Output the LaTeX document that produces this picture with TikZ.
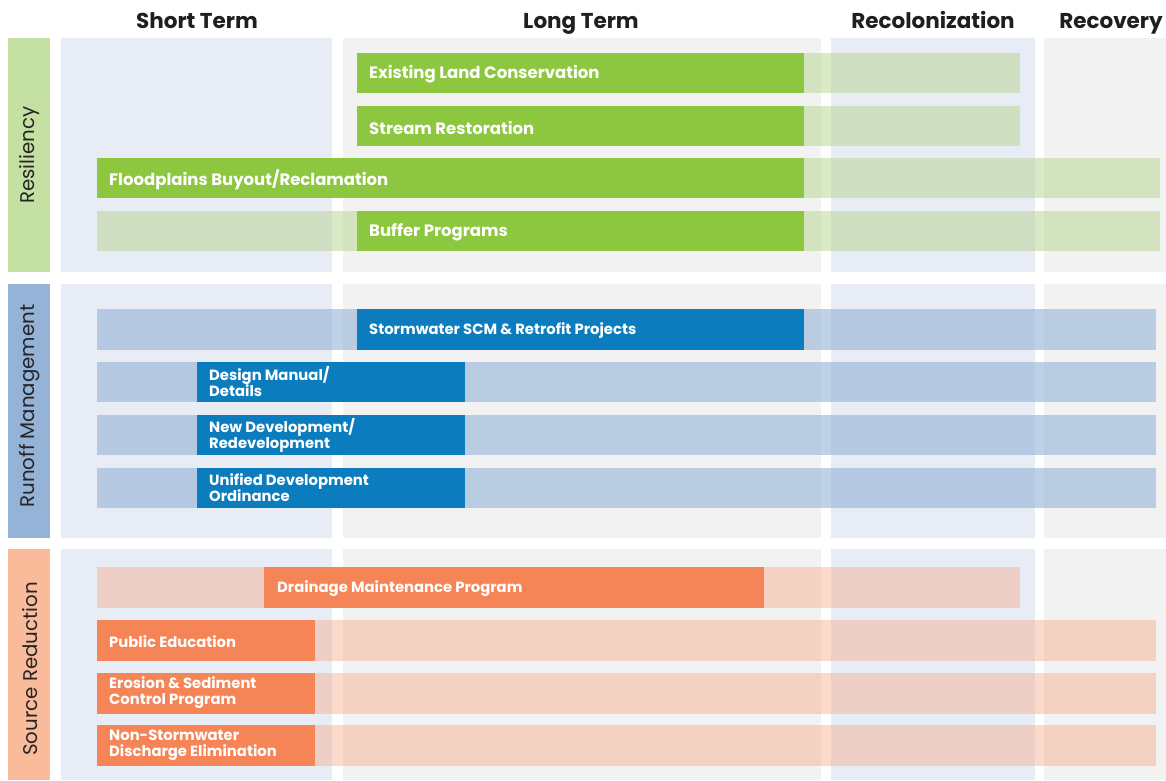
\documentclass[tikz,border=0pt]{standalone}
\usepackage{fontspec}
\setmainfont{Poppins}
\definecolor{colB}{HTML}{E8ECF5}
\definecolor{colG}{HTML}{F2F2F2}
\definecolor{gDark}{HTML}{8DC63F}
\definecolor{bDark}{HTML}{0B7DBE}
\definecolor{oDark}{HTML}{F58556}
\definecolor{gLab}{HTML}{C4E0A2}
\definecolor{bLab}{HTML}{95B3D7}
\definecolor{oLab}{HTML}{FABB9A}
\definecolor{gLt}{HTML}{B5D58E}
\definecolor{bLt}{HTML}{95B3D7}
\definecolor{oLt}{HTML}{F5A47F}
\tikzset{
  hdr/.style={font=\fontsize{21.5}{24}\selectfont\bfseries, text=black!88, inner sep=0pt, anchor=base},
  lbl/.style={font=\fontsize{19.8}{22}\selectfont, text=black!85, rotate=90, inner sep=0pt},
  btxt/.style={font=\fontsize{16.5}{18}\selectfont\bfseries, text=white, anchor=west, inner sep=0pt, align=left, yshift=-1.5pt},
  stxt/.style={font=\fontsize{14.8}{16}\selectfont\bfseries, text=white, anchor=west, inner sep=0pt, align=left, yshift=-1.5pt},
  ttxt/.style={font=\fontsize{14.8}{16}\selectfont\bfseries, text=white, anchor=west, inner sep=0pt, align=left},
  gd/.style={fill=gDark}, bd/.style={fill=bDark}, od/.style={fill=oDark},
  gl/.style={fill=gLt, fill opacity=0.5},
  bl/.style={fill=bLt, fill opacity=0.6},
  ol/.style={fill=oLt, fill opacity=0.4}
}
\begin{document}
\begin{tikzpicture}[x=1pt,y=-1pt]
\useasboundingbox (0,0) rectangle (1166,780);
\fill[white] (0,0) rectangle (1166,780);
% column backgrounds per row band
\foreach \ya/\yb in {38/272,284/538,549/780}{
  \fill[colB] (61,\ya) rectangle (332,\yb);
  \fill[colG] (343,\ya) rectangle (821,\yb);
  \fill[colB] (831,\ya) rectangle (1035,\yb);
  \fill[colG] (1044,\ya) rectangle (1166,\yb);
}
% headers
\node[hdr] (hst) at (197,28.5) {Short Term};
\node[hdr] (hlt) at (581,28.5) {Long Term};
\node[hdr] (hrc) at (933,28.5) {Recolonization};
\node[hdr] (hrv) at (1111,28.5) {Recovery};
% row labels
\fill[gLab] (8,38) rectangle (50,272);
\fill[bLab] (8,284) rectangle (50,538);
\fill[oLab] (8,549) rectangle (50,780);
\node[lbl] (lres) at (30,155) {Resiliency};
\node[lbl] (lrun) at (30,406) {Runoff Management};
\node[lbl] (lsrc) at (30,669) {Source Reduction};
% Resiliency
\fill[gl] (804,53) rectangle (1020,93);
\fill[gd] (357,53) rectangle (804,93);
\node[btxt] (t1) at (369,73) {Existing Land Conservation};
\fill[gl] (804,106) rectangle (1020,146);
\fill[gd] (357,106) rectangle (804,146);
\node[btxt] (t2) at (369,126) {Stream Restoration};
\fill[gl] (804,158) rectangle (1160,198);
\fill[gd] (97,158) rectangle (804,198);
\node[btxt] (t3) at (109,178) {Floodplains Buyout/Reclamation};
\fill[gl] (97,211) rectangle (357,251);
\fill[gl] (804,211) rectangle (1160,251);
\fill[gd] (357,211) rectangle (804,251);
\node[btxt] (t4) at (369,231) {Buffer Programs};
% Runoff
\fill[bl] (97,309) rectangle (357,350);
\fill[bl] (804,309) rectangle (1156,350);
\fill[bd] (357,309) rectangle (804,350);
\node[stxt] (t5) at (369,329.5) {Stormwater SCM \& Retrofit Projects};
\foreach \ya in {362,415,468}{
  \fill[bl] (97,\ya) rectangle (197,\ya+40);
  \fill[bl] (465,\ya) rectangle (1156,\ya+40);
  \fill[bd] (197,\ya) rectangle (465,\ya+40);
}
\node[ttxt] (t6) at (209,382) {Design Manual/\\Details};
\node[ttxt] (t7) at (209,435) {New Development/\\Redevelopment};
\node[ttxt] (t8) at (209,488) {Unified Development\\Ordinance};
% Source reduction
\fill[ol] (97,567) rectangle (264,608);
\fill[ol] (764,567) rectangle (1020,608);
\fill[od] (264,567) rectangle (764,608);
\node[stxt] (t9) at (277,587.5) {Drainage Maintenance Program};
\foreach \ya in {620,673,725}{
  \fill[ol] (315,\ya) rectangle (1156,\ya+40.5);
  \fill[od] (97,\ya) rectangle (315,\ya+40.5);
}
\node[stxt] (t10) at (109,640) {Public Education};
\node[ttxt] (t11) at (109,693) {Erosion \& Sediment\\Control Program};
\node[ttxt] (t12) at (109,745.5) {Non-Stormwater\\Discharge Elimination};
\end{tikzpicture}
\end{document}
